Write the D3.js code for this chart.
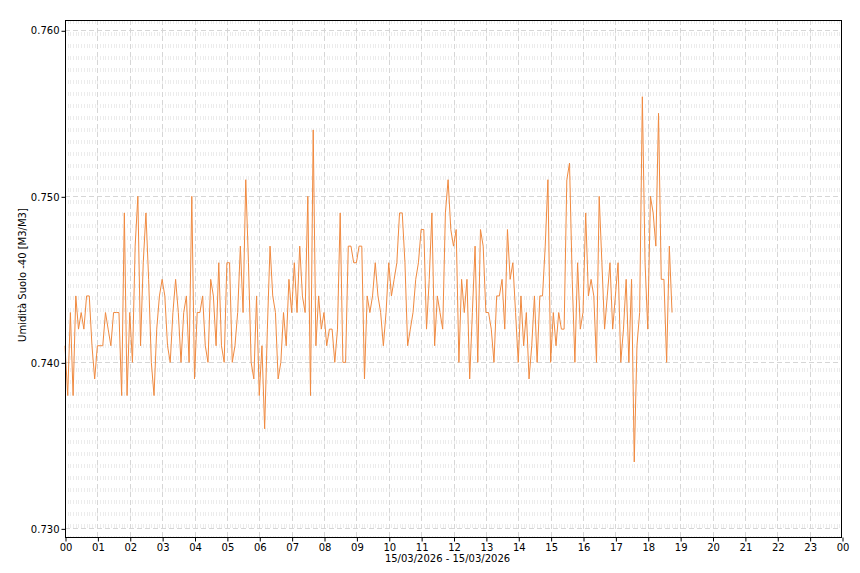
<!DOCTYPE html>
<html><head><meta charset="utf-8">
<script src="https://cdn.jsdelivr.net/npm/d3@7"></script>
<style>
html,body{margin:0;padding:0;background:#fff;}
svg{display:block;}
text{font-family:"DejaVu Sans",sans-serif;font-size:10px;fill:#000;}
</style></head>
<body>
<svg id="chart" width="860" height="573"></svg>
<script>
// ---- data ----
const startTime = "2026-03-15T00:00:00";   // first sample
const sampleMinutes = 5;                   // sampling interval
const soilMoisture = [
0.741,0.738,0.743,0.738,0.744,0.742,0.743,0.742,0.744,0.744,0.741,0.739,
0.741,0.741,0.741,0.743,0.742,0.741,0.743,0.743,0.743,0.738,0.749,0.738,
0.743,0.740,0.747,0.750,0.741,0.746,0.749,0.745,0.740,0.738,0.742,0.744,
0.745,0.744,0.741,0.740,0.743,0.745,0.743,0.740,0.743,0.744,0.740,0.750,
0.739,0.743,0.743,0.744,0.741,0.740,0.745,0.744,0.741,0.746,0.741,0.740,
0.746,0.746,0.740,0.741,0.743,0.747,0.743,0.751,0.746,0.740,0.739,0.744,
0.738,0.741,0.736,0.742,0.747,0.744,0.743,0.739,0.740,0.743,0.741,0.745,
0.743,0.746,0.743,0.747,0.744,0.743,0.750,0.738,0.754,0.741,0.744,0.742,
0.743,0.741,0.742,0.742,0.740,0.742,0.749,0.740,0.740,0.747,0.747,0.746,
0.746,0.747,0.747,0.739,0.744,0.743,0.744,0.746,0.744,0.743,0.741,0.743,
0.746,0.744,0.745,0.746,0.749,0.749,0.746,0.741,0.742,0.743,0.745,0.746,
0.748,0.748,0.742,0.745,0.749,0.741,0.744,0.743,0.742,0.749,0.751,0.748,
0.747,0.748,0.740,0.745,0.743,0.745,0.739,0.743,0.747,0.740,0.748,0.747,
0.743,0.743,0.742,0.740,0.744,0.744,0.745,0.742,0.748,0.745,0.746,0.743,
0.740,0.744,0.741,0.743,0.739,0.741,0.744,0.740,0.744,0.744,0.747,0.751,
0.740,0.743,0.741,0.743,0.742,0.742,0.751,0.752,0.745,0.740,0.746,0.742,
0.743,0.749,0.744,0.745,0.744,0.740,0.750,0.746,0.742,0.744,0.746,0.742,
0.744,0.746,0.740,0.742,0.745,0.740,0.745,0.734,0.741,0.743,0.756,0.746,
0.742,0.750,0.749,0.747,0.755,0.745,0.745,0.740,0.747,0.743
];
const yTickValues = [0.730, 0.740, 0.750, 0.760];
const xTickLabels = ["00","01","02","03","04","05","06","07","08","09","10","11",
                     "12","13","14","15","16","17","18","19","20","21","22","23","00"];
const yAxisTitle = "Umidità Suolo -40 [M3/M3]";
const xAxisTitle = "15/03/2026 - 15/03/2026";

// ---- layout ----
const L = 65, R = 842, T = 20, B = 538;
const svg = d3.select("#chart");

const t0 = new Date(startTime);
const dayEnd = d3.timeDay.offset(t0, 1);
const data = soilMoisture.map((v, i) => ({t: d3.timeMinute.offset(t0, i * sampleMinutes), v}));

const x = d3.scaleTime().domain([t0, dayEnd]).range([L, R]);
const y = d3.scaleLinear().domain([0.72942, 0.76062]).range([B, T]);

// minor vertical grid (dashed, very light) every 5 minutes
const minorTimes = d3.timeMinute.every(5).range(t0, dayEnd);
svg.append("g").selectAll("line").data(minorTimes).join("line")
  .attr("x1", d => Math.round(x(d)) + 0.5).attr("x2", d => Math.round(x(d)) + 0.5)
  .attr("y1", T).attr("y2", B)
  .attr("stroke", "#ececec").attr("stroke-width", 1)
  .attr("stroke-dasharray", "4,8");

// major grid
const hours = d3.timeHour.range(t0, d3.timeMinute.offset(dayEnd, 1));
svg.append("g").selectAll("line").data(hours.slice(1, -1)).join("line")
  .attr("x1", d => Math.round(x(d)) + 0.5).attr("x2", d => Math.round(x(d)) + 0.5)
  .attr("y1", T).attr("y2", B)
  .attr("stroke", "#d6d6d6").attr("stroke-dasharray", "5,3");
svg.append("g").selectAll("line").data(yTickValues).join("line")
  .attr("x1", L).attr("x2", R)
  .attr("y1", d => Math.round(y(d)) + 0.5).attr("y2", d => Math.round(y(d)) + 0.5)
  .attr("stroke", "#d6d6d6").attr("stroke-dasharray", "5,3");

// data line
const line = d3.line().x(d => x(d.t)).y(d => y(d.v));
svg.append("path").datum(data)
  .attr("fill", "none").attr("stroke", "#f08a40").attr("stroke-width", 1)
  .attr("stroke-linejoin", "miter")
  .attr("d", line);

// frame
svg.append("rect").attr("x", L + 0.5).attr("y", T + 0.5)
  .attr("width", R - L - 1).attr("height", B - T - 1)
  .attr("fill", "none").attr("stroke", "#000").attr("stroke-width", 1);

// y axis
const yAxis = d3.axisLeft(y).tickValues(yTickValues).tickFormat(d3.format(".3f"))
  .tickSize(4).tickPadding(2);
const gy = svg.append("g").attr("transform", `translate(${L + 0.5},0.5)`).call(yAxis);
gy.select(".domain").remove();
gy.selectAll("line").attr("stroke", "#000");
gy.selectAll("text").style("font-family", '"DejaVu Sans",sans-serif').style("font-size", "10px");

// x axis
const xAxis = d3.axisBottom(x).tickValues(hours)
  .tickFormat((d, i) => xTickLabels[i]).tickSize(4).tickPadding(2);
const gx = svg.append("g").attr("transform", `translate(0.5,${B - 0.5})`).call(xAxis);
gx.select(".domain").remove();
gx.selectAll("line").attr("stroke", "#000");
gx.selectAll("text").style("font-family", '"DejaVu Sans",sans-serif').style("font-size", "10px");

// axis titles
svg.append("text").attr("x", (L + R) / 2 - 6).attr("y", 562)
  .attr("text-anchor", "middle").text(xAxisTitle);
svg.append("text").attr("transform", `translate(26,${(T + B) / 2 - 4}) rotate(-90)`)
  .attr("text-anchor", "middle").text(yAxisTitle);
</script>
</body></html>
